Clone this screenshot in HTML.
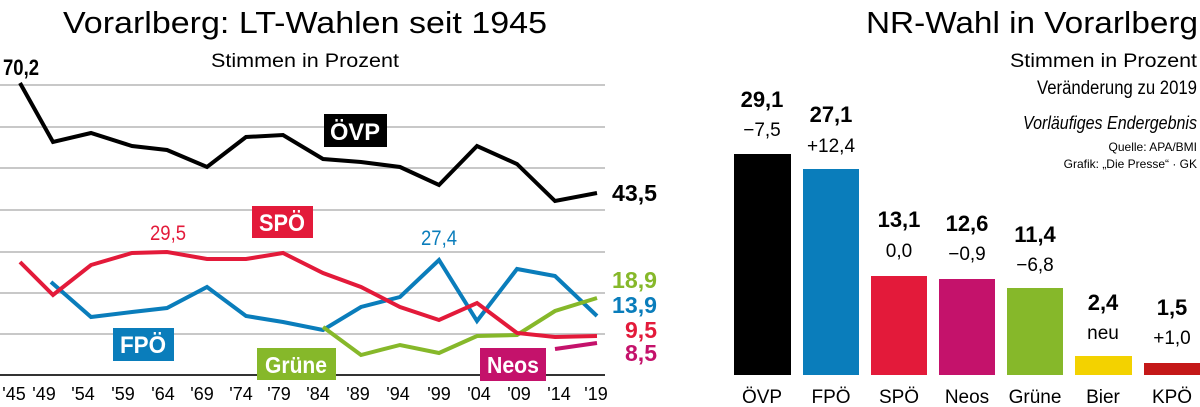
<!DOCTYPE html>
<html><head><meta charset="utf-8"><style>
html,body{margin:0;padding:0;background:#fff;width:1200px;height:407px;overflow:hidden}
svg{display:block}
text{font-family:"Liberation Sans Narrow","Liberation Sans",sans-serif}
</style></head><body>
<svg width="1200" height="407" viewBox="0 0 1200 407" xmlns="http://www.w3.org/2000/svg">
<text x="63" y="33" font-size="31" textLength="484" lengthAdjust="spacingAndGlyphs" fill="#000">Vorarlberg: LT-Wahlen seit 1945</text>
<text x="305" y="67" font-size="19" text-anchor="middle" textLength="188" lengthAdjust="spacingAndGlyphs">Stimmen in Prozent</text>
<g stroke="#c8c8c8" stroke-width="2">
<line x1="0" y1="85" x2="605" y2="85"/><line x1="0" y1="127" x2="605" y2="127"/>
<line x1="0" y1="168" x2="605" y2="168"/><line x1="0" y1="210" x2="605" y2="210"/>
<line x1="0" y1="252" x2="605" y2="252"/><line x1="0" y1="293" x2="605" y2="293"/>
<line x1="0" y1="334" x2="605" y2="334"/>
</g>
<line x1="0" y1="375" x2="605" y2="375" stroke="#333" stroke-width="2"/>
<g fill="none" stroke-width="4" stroke-linejoin="miter">
<polyline stroke="#000" points="20,83 53,142 91,133 132,146 167,150 207,167 246,137 283,135 323,159 361,162 400,167 439,185 477,146 517,164 555,201 597,193"/>
<polyline stroke="#0a7dbb" points="51,282 91,317 132,312 167,308 207,287 246,316 283,322 323,330 361,307 400,297 439,260 477,321 517,269 555,276 597,316"/>
<polyline stroke="#86b82a" points="323,327 361,355 400,345 439,353 477,336 517,335 555,311 597,298"/>
<polyline stroke="#e31a3a" points="20,262 53,295 91,265 132,253 167,252 207,259 246,259 283,253 323,273 361,287 400,307 439,320 477,303 517,333 555,337 597,336"/>
<polyline stroke="#c4126b" points="555,349 597,343"/>
</g>
<rect x="324" y="114" width="63" height="33" fill="#000"/><text x="355" y="140" font-size="24" font-weight="bold" fill="#fff" text-anchor="middle" textLength="50" lengthAdjust="spacingAndGlyphs">ÖVP</text>
<rect x="252" y="206" width="61" height="32" fill="#e31a3a"/><text x="282" y="231" font-size="24" font-weight="bold" fill="#fff" text-anchor="middle" textLength="46" lengthAdjust="spacingAndGlyphs">SPÖ</text>
<rect x="113" y="328" width="61" height="33" fill="#0a7dbb"/><text x="143" y="353" font-size="24" font-weight="bold" fill="#fff" text-anchor="middle" textLength="46" lengthAdjust="spacingAndGlyphs">FPÖ</text>
<rect x="257" y="348" width="79" height="32" fill="#86b82a"/><text x="296" y="373" font-size="23" font-weight="bold" fill="#fff" text-anchor="middle" textLength="62" lengthAdjust="spacingAndGlyphs">Grüne</text>
<rect x="480" y="348" width="66" height="33" fill="#c4126b"/><text x="513" y="373" font-size="23" font-weight="bold" fill="#fff" text-anchor="middle" textLength="52" lengthAdjust="spacingAndGlyphs">Neos</text>
<text x="3" y="75" font-size="22" font-weight="bold" textLength="36" lengthAdjust="spacingAndGlyphs">70,2</text>
<text x="612" y="201" font-size="23" font-weight="bold" textLength="45" lengthAdjust="spacingAndGlyphs">43,5</text>
<text x="168" y="240" font-size="21" fill="#e31a3a" text-anchor="middle" textLength="36" lengthAdjust="spacingAndGlyphs">29,5</text>
<text x="439" y="245" font-size="21" fill="#0a7dbb" text-anchor="middle" textLength="36" lengthAdjust="spacingAndGlyphs">27,4</text>
<g font-size="23" font-weight="bold">
<text x="612" y="288" fill="#86b82a" textLength="45" lengthAdjust="spacingAndGlyphs">18,9</text>
<text x="612" y="313" fill="#0a7dbb" textLength="45" lengthAdjust="spacingAndGlyphs">13,9</text>
<text x="625" y="338" fill="#e31a3a" textLength="32" lengthAdjust="spacingAndGlyphs">9,5</text>
<text x="625" y="361" fill="#c4126b" textLength="32" lengthAdjust="spacingAndGlyphs">8,5</text>
</g>
<g font-size="18" text-anchor="middle">
<text x="14" y="400">'45</text><text x="44" y="400">'49</text><text x="83" y="400">'54</text><text x="123" y="400">'59</text>
<text x="163" y="400">'64</text><text x="202" y="400">'69</text><text x="241" y="400">'74</text><text x="279" y="400">'79</text>
<text x="318" y="400">'84</text><text x="358" y="400">'89</text><text x="398" y="400">'94</text><text x="439" y="400">'99</text>
<text x="479" y="400">'04</text><text x="519" y="400">'09</text><text x="559" y="400">'14</text><text x="596" y="400">'19</text>
</g>
<text x="866" y="33" font-size="31" textLength="332" lengthAdjust="spacingAndGlyphs">NR-Wahl in Vorarlberg</text>
<g text-anchor="end">
<text x="1197" y="67" font-size="19" textLength="187" lengthAdjust="spacingAndGlyphs">Stimmen in Prozent</text>
<text x="1197" y="94" font-size="19" textLength="160" lengthAdjust="spacingAndGlyphs">Veränderung zu 2019</text>
<text x="1197" y="129" font-size="18" font-style="italic" textLength="174" lengthAdjust="spacingAndGlyphs">Vorläufiges Endergebnis</text>
<text x="1197" y="151" font-size="12">Quelle: APA/BMI</text>
<text x="1197" y="168" font-size="12">Grafik: „Die Presse“ · GK</text>
</g>
<rect x="734" y="154" width="57" height="221" fill="#000"/>
<rect x="803" y="169" width="56" height="206" fill="#0a7dbb"/>
<rect x="871" y="276" width="56" height="99" fill="#e31a3a"/>
<rect x="939" y="279" width="56" height="96" fill="#c4126b"/>
<rect x="1007" y="288" width="56" height="87" fill="#86b82a"/>
<rect x="1075" y="356" width="57" height="19" fill="#f3d200"/>
<rect x="1144" y="363" width="56" height="12" fill="#c41818"/>
<g text-anchor="middle" font-size="22" font-weight="bold">
<text x="762" y="107">29,1</text><text x="831" y="122">27,1</text><text x="899" y="227">13,1</text>
<text x="967" y="231">12,6</text><text x="1035" y="242">11,4</text><text x="1103" y="310">2,4</text><text x="1172" y="315">1,5</text>
</g>
<g text-anchor="middle" font-size="19">
<text x="762" y="136">−7,5</text><text x="831" y="152">+12,4</text><text x="899" y="257">0,0</text>
<text x="967" y="260">−0,9</text><text x="1035" y="271">−6,8</text><text x="1103" y="339">neu</text><text x="1172" y="344">+1,0</text>
</g>
<g text-anchor="middle" font-size="19">
<text x="762" y="403">ÖVP</text><text x="831" y="403">FPÖ</text><text x="899" y="403">SPÖ</text><text x="967" y="403">Neos</text>
<text x="1035" y="403">Grüne</text><text x="1103" y="403">Bier</text><text x="1172" y="403">KPÖ</text>
</g>
</svg>
</body></html>
